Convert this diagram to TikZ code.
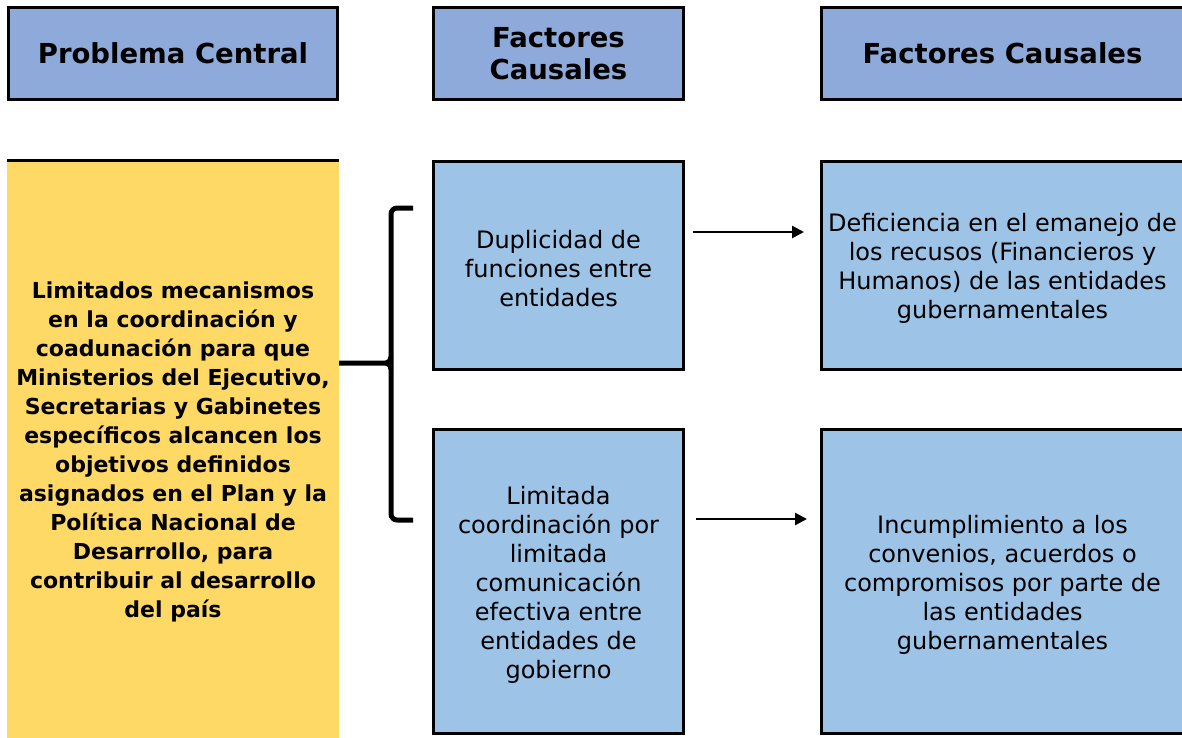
\documentclass[tikz,border=0pt]{standalone}
\usepackage{fontspec}
\setmainfont{DejaVu Sans}
\usetikzlibrary{arrows.meta}
\definecolor{hdr}{HTML}{8EAADB}
\definecolor{cell}{HTML}{9DC3E6}
\definecolor{yel}{HTML}{FFD966}
\tikzset{
  hdrbox/.style={draw=black, line width=3.5pt, fill=hdr, inner sep=0pt, align=center,
    font=\fontsize{27.5}{32}\selectfont\bfseries},
  cellbox/.style={draw=black, line width=3.5pt, fill=cell, inner sep=0pt, align=center,
    font=\fontsize{24}{29}\selectfont},
  celltext/.style={inner sep=0pt, align=center, font=\fontsize{24}{29}\selectfont},
  yelbox/.style={fill=yel, inner sep=0pt},
  yeltext/.style={inner sep=0pt, align=center, font=\fontsize{22}{29}\selectfont\bfseries},
  bracepath/.style={line width=5pt, rounded corners=6pt},
  arr/.style={line width=2.6pt, -{Triangle[length=12pt,width=12pt]}},
}
\begin{document}
\begin{tikzpicture}[x=1pt,y=-1pt]
\useasboundingbox (0,0) rectangle (1182,737);
\fill[white] (0,0) rectangle (1182,737);
\clip (0,0) rectangle (1182,737);

% headers
\node[hdrbox, minimum width=329pt, minimum height=92pt] (h1) at (173,53.5) {Problema Central};
\node[hdrbox, minimum width=250pt, minimum height=92pt] (h2) at (558.5,53.5) {Factores\\Causales};
\node[hdrbox, minimum width=362pt, minimum height=92pt] (h3) at (1002.5,53.5) {Factores Causales};

% yellow problem box
\node[yelbox, minimum width=332pt, minimum height=582pt] (pc) at (173,452) {};
\draw[line width=3pt] (pc.north west) -- (pc.north east);
\node[yeltext] (pctext) at (173,452)
 {Limitados mecanismos\\en la coordinación y\\coadunación para que\\Ministerios del Ejecutivo,\\Secretarias y Gabinetes\\específicos alcancen los\\objetivos definidos\\asignados en el Plan y la\\Política Nacional de\\Desarrollo, para\\contribuir al desarrollo\\del país};

% factor boxes
\node[cellbox, minimum width=250pt, minimum height=208pt] (f1) at (558.5,265.5) {};
\node[celltext] (f1t) at (558.5,269) {Duplicidad de\\funciones entre\\entidades};
\node[cellbox, minimum width=250pt, minimum height=304pt] (f2) at (558.5,581.5) {};
\node[celltext] (f2t) at (558.5,585) {Limitada\\coordinación por\\limitada\\comunicación\\efectiva entre\\entidades de\\gobierno};

\node[cellbox, minimum width=362pt, minimum height=208pt] (c1) at (1002.5,265.5) {};
\node[celltext] (c1t) at (1002.5,268.5) {Deficiencia en el emanejo de\\los recusos (Financieros y\\Humanos) de las entidades\\gubernamentales};
\node[cellbox, minimum width=362pt, minimum height=304pt] (c2) at (1002.5,581.5) {};
\node[celltext] (c2t) at (1002.5,585) {Incumplimiento a los\\convenios, acuerdos o\\compromisos por parte de\\las entidades\\gubernamentales};

% brace
\coordinate (bt) at (413,208);
\coordinate (bb) at (413,520);
\coordinate (bm) at (390,363);
\draw[bracepath] (bt) -- (391,208) -- (391,520) -- (bb);
\draw[line width=5pt] (pc.east |- bm) -- (386,363) to[out=0,in=-90] (391,357);
\draw[line width=5pt] (386,363) to[out=0,in=90] (391,369);

% arrows
\coordinate (a1s) at (693,232);
\coordinate (a1e) at (804,232);
\coordinate (a2s) at (696,519);
\coordinate (a2e) at (807,519);
\draw[arr] (a1s) -- (a1e);
\draw[arr] (a2s) -- (a2e);
\end{tikzpicture}
\end{document}
